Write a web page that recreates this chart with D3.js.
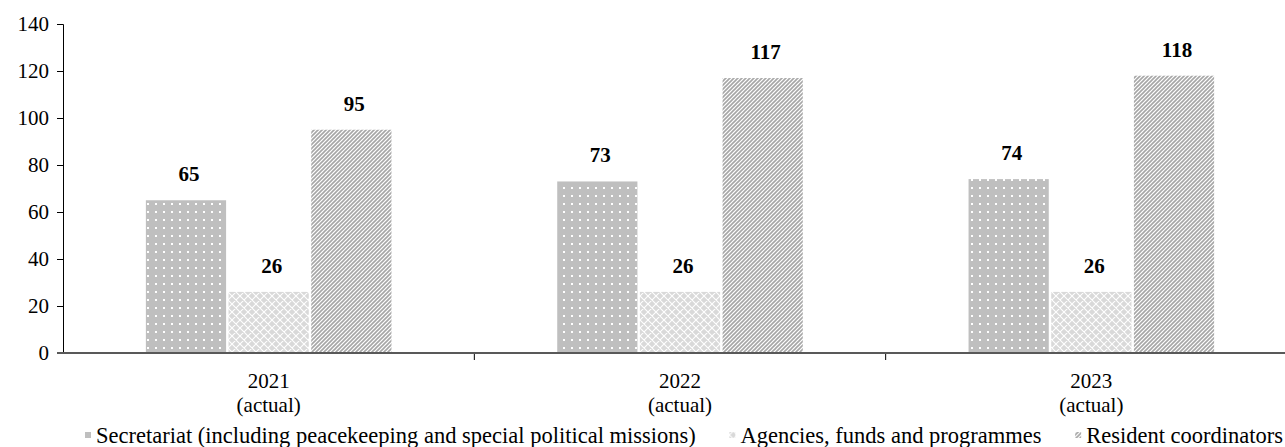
<!DOCTYPE html>
<html>
<head>
<meta charset="utf-8">
<script src="https://cdn.jsdelivr.net/npm/d3@7"></script>
<style>
  html, body { margin: 0; padding: 0; background: #fff; }
  svg { display: block; }
  text { font-family: "Liberation Serif", "Times New Roman", serif; fill: #000; }
</style>
</head>
<body>
<svg id="chart" width="1285" height="447"></svg>
<script>
// Years shown on the category axis
const categories = ["2021", "2022", "2023"];
const categorySub = ["(actual)", "(actual)", "(actual)"];

// Series (one value per year)
const seriesNames = [
  "Secretariat (including peacekeeping and special political missions)",
  "Agencies, funds and programmes",
  "Resident coordinators"
];
const secretariat = [65, 73, 74];
const agencies = [26, 26, 26];
const residentCoordinators = [95, 117, 118];

const yTicks = [0, 20, 40, 60, 80, 100, 120, 140];

const series = [secretariat, agencies, residentCoordinators];
const patternIds = ["pat-dots", "pat-trellis", "pat-stripes"];

const svg = d3.select("#chart");
const defs = svg.append("defs");

// Dotted grey fill
const p1 = defs.append("pattern").attr("id", "pat-dots")
  .attr("patternUnits", "userSpaceOnUse").attr("width", 8).attr("height", 8);
p1.append("rect").attr("width", 8).attr("height", 8).attr("fill", "#bfbfbf");
p1.append("rect").attr("x", 3).attr("y", 3).attr("width", 2).attr("height", 2).attr("fill", "#fff");

// Light trellis fill
const p2 = defs.append("pattern").attr("id", "pat-trellis")
  .attr("patternUnits", "userSpaceOnUse").attr("width", 8).attr("height", 8);
p2.append("rect").attr("width", 8).attr("height", 8).attr("fill", "#d9d9d9");
p2.append("path").attr("d", "M0,0 L8,8 M8,0 L0,8 M-1,7 L1,9 M7,-1 L9,1 M-1,1 L1,-1 M7,9 L9,7")
  .attr("stroke", "#fff").attr("stroke-width", 1.1).attr("fill", "none");

// Wide upward diagonal stripes
const p3 = defs.append("pattern").attr("id", "pat-stripes")
  .attr("patternUnits", "userSpaceOnUse").attr("width", 4).attr("height", 4);
p3.append("rect").attr("width", 4).attr("height", 4).attr("fill", "#fff");
p3.append("path").attr("d", "M-1,1 L1,-1 M0,4 L4,0 M3,5 L5,3")
  .attr("stroke", "#a6a6a6").attr("stroke-width", 1.6).attr("fill", "none");

const x = d3.scaleBand().domain(categories).range([63, 1297]).paddingInner(0).paddingOuter(0);
const y = d3.scaleLinear().domain([0, 140]).range([353, 24]);

const bw = x.bandwidth();
const barW = bw * 0.195;
const gap = bw * 0.006;
const groupW = barW * 3 + gap * 2;
const off = (bw - groupW) / 2;

// Y axis
const yAxis = svg.append("g").attr("transform", "translate(63,0)")
  .call(d3.axisLeft(y).tickValues(yTicks).tickSize(6).tickPadding(8).tickFormat(d3.format("d")));
yAxis.select(".domain").attr("stroke", "#000").attr("stroke-width", 1);
yAxis.selectAll(".tick line").attr("stroke", "#000");
yAxis.selectAll(".tick text").style("font-size", "21px").attr("font-family", null);

// Bars and value labels
series.forEach((vals, si) => {
  svg.append("g").selectAll("rect").data(vals).join("rect")
    .attr("x", (d, i) => x(categories[i]) + off + si * (barW + gap))
    .attr("y", d => y(d))
    .attr("width", barW)
    .attr("height", d => y(0) - y(d))
    .attr("fill", `url(#${patternIds[si]})`);

  svg.append("g").selectAll("text").data(vals).join("text")
    .attr("x", (d, i) => x(categories[i]) + off + si * (barW + gap) + barW / 2 + 3)
    .attr("y", d => y(d) - 19)
    .attr("text-anchor", "middle")
    .style("font-size", "21px").style("font-weight", "bold")
    .text(d => d);
});

// X axis
const xAxis = svg.append("g").attr("transform", "translate(0,353)");
xAxis.append("line").attr("x1", 57).attr("x2", 1297).attr("y1", 0).attr("y2", 0)
  .attr("stroke", "#595959").attr("stroke-width", 2);
const boundaries = categories.slice(1).map(c => x(c));
xAxis.selectAll("line.b").data(boundaries).join("line").attr("class", "b")
  .attr("x1", d => d).attr("x2", d => d).attr("y1", 1).attr("y2", 7)
  .attr("stroke", "#000").attr("stroke-width", 1);
xAxis.selectAll("text.c").data(categories).join("text").attr("class", "c")
  .attr("x", d => x(d) + bw / 2).attr("y", 35).attr("text-anchor", "middle")
  .style("font-size", "21px").text(d => d);
xAxis.selectAll("text.s").data(categorySub).join("text").attr("class", "s")
  .attr("x", (d, i) => x(categories[i]) + bw / 2).attr("y", 59).attr("text-anchor", "middle")
  .style("font-size", "21px").text(d => d);

// Legend: laid out left to right, spread between the two edges
const legendLeft = 85, legendRight = 1283, markerW = 6, markerGap = 5;
const legend = svg.append("g").attr("transform", "translate(0,443)");
const items = seriesNames.map((name, i) => {
  const g = legend.append("g");
  g.append("rect").attr("y", -11).attr("width", markerW).attr("height", markerW)
    .attr("fill", `url(#${patternIds[i]})`);
  const t = g.append("text").attr("x", markerW + markerGap).attr("y", 0)
    .style("font-size", "22.5px").text(name);
  return { g, w: markerW + markerGap + t.node().getComputedTextLength() };
});
const totalW = d3.sum(items, d => d.w);
const spacing = (legendRight - legendLeft - totalW) / (items.length - 1);
let cx = legendLeft;
items.forEach(it => {
  it.g.attr("transform", `translate(${cx},0)`);
  cx += it.w + spacing;
});
</script>
</body>
</html>
